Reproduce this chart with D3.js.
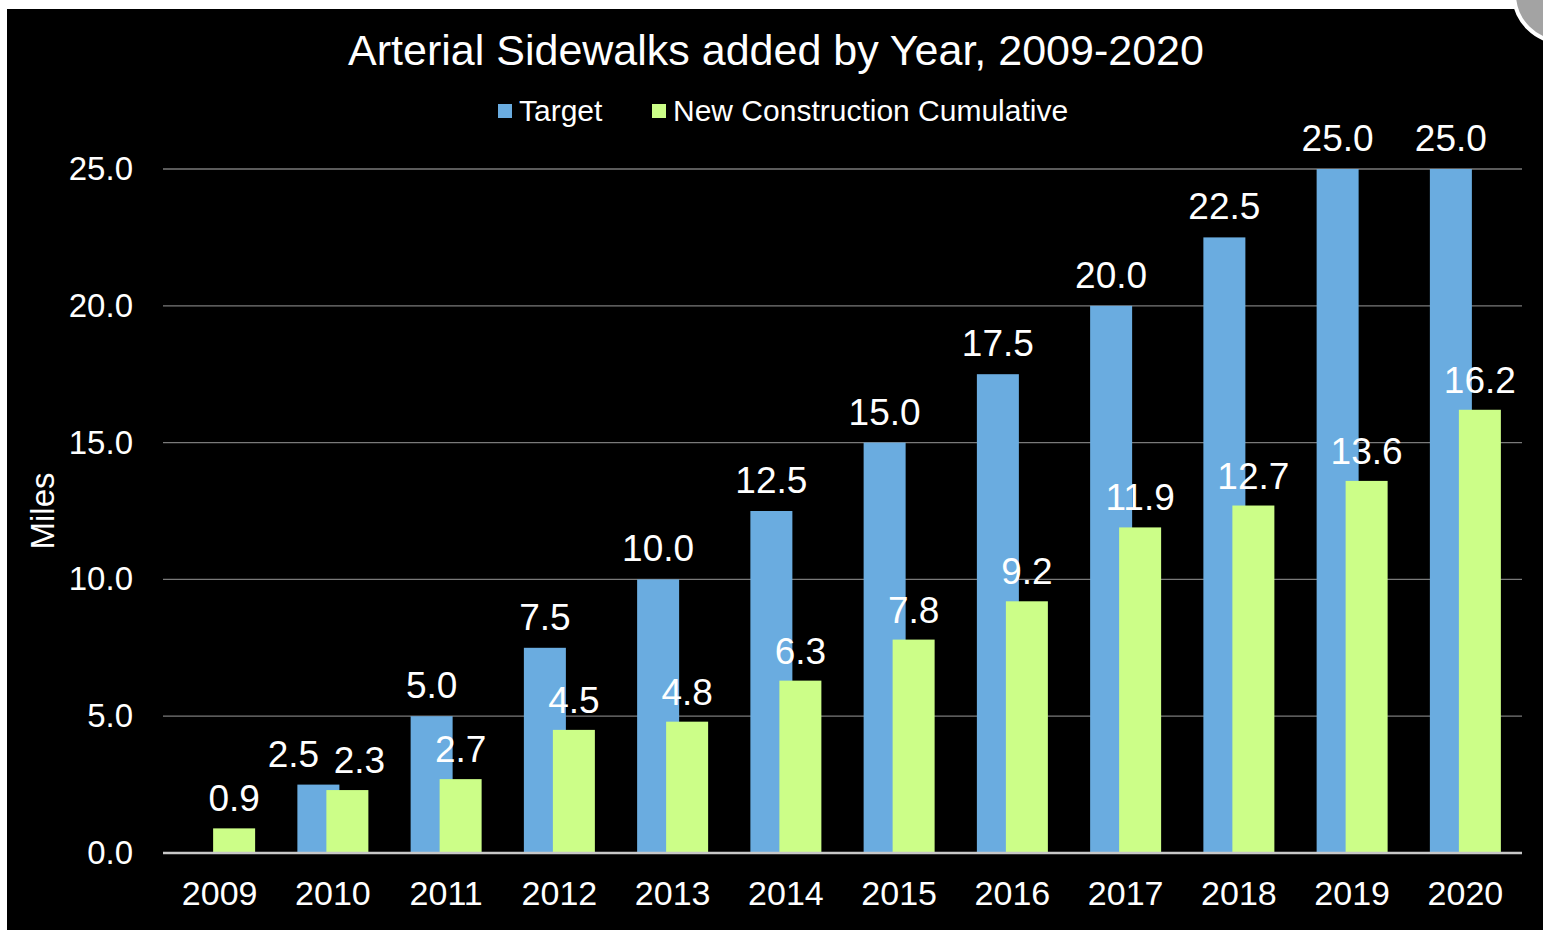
<!DOCTYPE html>
<html>
<head>
<meta charset="utf-8">
<script src="https://cdn.jsdelivr.net/npm/d3@7"></script>
<style>
  html, body { margin: 0; padding: 0; background: #fff; }
  svg { display: block; font-family: "Liberation Sans", Arial, sans-serif; }
</style>
</head>
<body>
<script>
// chart data
var years = ["2009", "2010", "2011", "2012", "2013", "2014", "2015", "2016", "2017", "2018", "2019", "2020"];
var target = [null, 2.5, 5.0, 7.5, 10.0, 12.5, 15.0, 17.5, 20.0, 22.5, 25.0, 25.0];
var cumulative = [0.9, 2.3, 2.7, 4.5, 4.8, 6.3, 7.8, 9.2, 11.9, 12.7, 13.6, 16.2];
var yTicks = [0, 5, 10, 15, 20, 25];
var seriesNames = ["Target", "New Construction Cumulative"];

const W = 1543, H = 930;
const margin = {top: 169, right: 21, bottom: 77, left: 163};
const width = W - margin.left - margin.right;
const height = H - margin.top - margin.bottom;
const blue = "#6aace0", green = "#ccfe88";

var svg = d3.select("body").append("svg")
    .attr("width", W)
    .attr("height", H);

// black panel, white strip top + left
svg.append("rect").attr("x", 7).attr("y", 9).attr("width", W - 7).attr("height", H - 9).attr("fill", "#000");

// the grey round button poking in at top right
svg.append("circle").attr("cx", 1562).attr("cy", -6).attr("r", 48)
    .attr("fill", "#a3a3a3").attr("stroke", "#fff").attr("stroke-width", 4);

var g = svg.append("g").attr("transform", "translate(" + margin.left + "," + margin.top + ")");

var x = d3.scaleBand().domain(years).range([0, width]);
var y = d3.scaleLinear().domain([0, 25]).range([height, 0]);

var barW = 42, shift = 14.5; // each bar is offset from band centre, they overlap

// gridlines
g.selectAll(".grid").data(yTicks.filter(d => d > 0)).enter().append("line")
    .attr("x1", 0).attr("x2", width)
    .attr("y1", d => y(d)).attr("y2", d => y(d))
    .attr("stroke", "#7a7a7a").attr("stroke-width", 1.3);

// y tick labels
var yAxis = d3.axisLeft(y).tickValues(yTicks).tickFormat(d3.format(".1f")).tickSize(0).tickPadding(30);
g.append("g").call(yAxis)
    .call(a => a.select(".domain").remove())
    .selectAll("text").attr("fill", "#fff").style("font-size", "33px")
    .style("font-family", "'Liberation Sans', Arial, sans-serif");

// bars
var tData = years.map((yr, i) => ({yr: yr, v: target[i]})).filter(d => d.v != null);
var cData = years.map((yr, i) => ({yr: yr, v: cumulative[i]}));

g.selectAll(".tbar").data(tData).enter().append("rect")
    .attr("x", d => x(d.yr) + x.bandwidth() / 2 - shift - barW / 2)
    .attr("y", d => y(d.v))
    .attr("width", barW)
    .attr("height", d => height - y(d.v))
    .attr("fill", blue);

g.selectAll(".cbar").data(cData).enter().append("rect")
    .attr("x", d => x(d.yr) + x.bandwidth() / 2 + shift - barW / 2)
    .attr("y", d => y(d.v))
    .attr("width", barW)
    .attr("height", d => height - y(d.v))
    .attr("fill", green);

// baseline
g.append("line").attr("x1", 0).attr("x2", width).attr("y1", height).attr("y2", height)
    .attr("stroke", "#c8c8c8").attr("stroke-width", 2.5);

// x axis labels
var xAxis = d3.axisBottom(x).tickSize(0).tickPadding(28);
g.append("g").attr("transform", "translate(0," + height + ")").call(xAxis)
    .call(a => a.select(".domain").remove())
    .selectAll("text").attr("fill", "#fff").style("font-size", "34px")
    .style("font-family", "'Liberation Sans', Arial, sans-serif");

// value labels (2010 pair nudged apart as in the original)
var nudgeT = {"2010": -25}, nudgeC = {"2010": 12};
g.selectAll(".tlab").data(tData).enter().append("text")
    .attr("x", d => x(d.yr) + x.bandwidth() / 2 - shift + (nudgeT[d.yr] || 0))
    .attr("y", d => y(d.v) - 18)
    .attr("text-anchor", "middle").attr("fill", "#fff").style("font-size", "37px")
    .text(d => d.v.toFixed(1));

g.selectAll(".clab").data(cData).enter().append("text")
    .attr("x", d => x(d.yr) + x.bandwidth() / 2 + shift + (nudgeC[d.yr] || 0))
    .attr("y", d => y(d.v) - 17)
    .attr("text-anchor", "middle").attr("fill", "#fff").style("font-size", "37px")
    .text(d => d.v.toFixed(1));

// title
svg.append("text").attr("x", 776).attr("y", 65).attr("text-anchor", "middle")
    .attr("fill", "#fff").style("font-size", "43px")
    .text("Arterial Sidewalks added by Year, 2009-2020");

// legend
var legend = svg.append("g");
var legX = [498, 652];
seriesNames.forEach(function(name, i) {
    legend.append("rect").attr("x", legX[i]).attr("y", 104).attr("width", 14).attr("height", 14)
        .attr("fill", i === 0 ? blue : green);
    legend.append("text").attr("x", legX[i] + 21).attr("y", 121)
        .attr("fill", "#fff").style("font-size", "30px").text(name);
});

// y axis title
svg.append("text")
    .attr("transform", "translate(54,511) rotate(-90)")
    .attr("text-anchor", "middle").attr("fill", "#fff").style("font-size", "33px")
    .text("Miles");
</script>
</body>
</html>
